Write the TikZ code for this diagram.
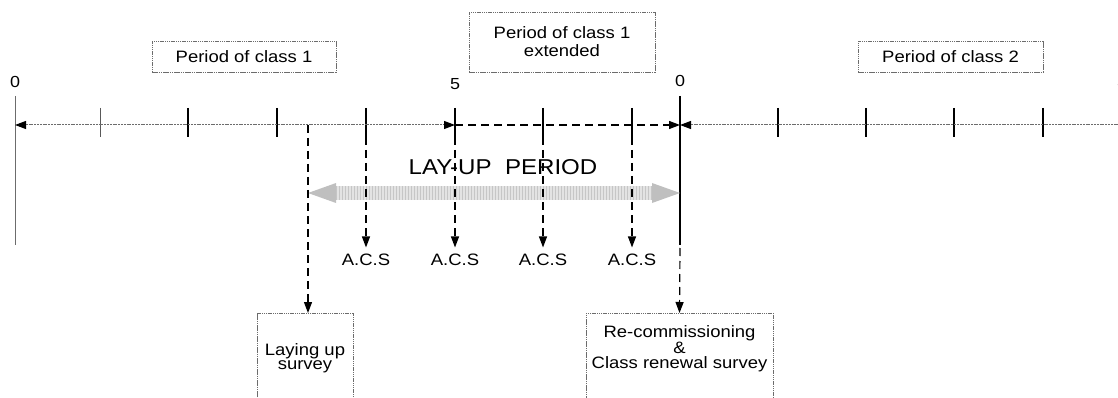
\documentclass[tikz,border=0pt]{standalone}
\usepackage{fontspec}
\setmainfont{Liberation Sans}[FakeStretch=1.12]
\usetikzlibrary{arrows.meta,patterns}

\begin{document}
\begin{tikzpicture}[x=1pt,y=-1pt,
  every node/.style={inner sep=0pt,font=\fontsize{16.5}{18}\selectfont},
  periodbox/.style={draw=gray!85!black,line width=0.8pt,dash pattern=on 1.5pt off 0.7pt},
  axisline/.style={draw=gray!85!black,line width=1pt,dash pattern=on 2pt off 0.8pt},
  dashline/.style={line width=1.2pt,dash pattern=on 8pt off 5pt},
  tickmark/.style={line width=1.6pt},
  tip/.style={-{Triangle[length=11pt,width=8pt,color=black]}},
  acs/.style={inner sep=6pt}]
\useasboundingbox (0,0) rectangle (1118,398);

% boxes over the time line
\node[periodbox,minimum width=184pt,minimum height=31pt] (class1) at (244,56.5) {Period of class 1};
\node[periodbox,minimum width=186pt,minimum height=60pt,align=center] (class1ext) at (562,42)
  {Period of class 1\\extended};
\node[periodbox,minimum width=185pt,minimum height=31pt] (class2) at (950.5,56.5) {Period of class 2};

% years
\node[font=\fontsize{16}{16}\selectfont] (y0) at (15,82) {0};
\node[font=\fontsize{16}{16}\selectfont] (y5) at (455,84) {5};
\node[font=\fontsize{16}{16}\selectfont] (z0) at (680,81) {0};
\node[font=\fontsize{16}{16}\selectfont] (z5) at (1122,82) {5};

% time line
\coordinate (start) at (15,125);
\coordinate (five) at (455,125);
\coordinate (zero) at (680,125);
\coordinate (end) at (1125,125);
\draw[gray!85!black,line width=0.9pt] (15,96) -- (15,245);
\draw[line width=1.8pt] (680,96) -- (680,245);
\draw[gray!70!black,line width=0.8pt] (100,108) -- (100,137);
\foreach \x in {188,277,366,455,543,632,778,866,954,1043}
  \draw[tickmark] (\x,108) -- (\x,137);
\draw[axisline,{Triangle[length=11pt,width=8pt,color=black]}-{Triangle[length=11pt,width=8pt,color=black]}]
  (start) -- (five);
\draw[dashline,tip] (five) -- (zero);
\draw[axisline,{Triangle[length=11pt,width=8pt,color=black]}-] (zero) -- (end);

% lay-up period
\node[font=\fontsize{21.5}{24}\selectfont] (layup) at (503,167) {LAY-UP\ \ PERIOD};
\coordinate (lpl) at (308,193);
\coordinate (lpr) at (680,193);
\fill[gray!22] (lpl) ++(28,-6.5) rectangle ++(316,13);
\fill[pattern=vertical lines,pattern color=gray!45] (lpl) ++(28,-6.5) rectangle ++(316,13);
\fill[gray!50] (lpl) -- ++(28,-10) -- ++(0,20) -- cycle;
\fill[gray!50] (lpr) -- ++(-28,-10) -- ++(0,20) -- cycle;

% annual surveys
\foreach \x/\n in {366/a,455/b,543/c,632/d} {
  \coordinate (top\n) at (\x,137);
  \node[acs] (acs\n) at (\x,259.5) {A.C.S};
  \draw[dashline,tip] (top\n) -- (acs\n.north);
}

% surveys at the ends
\node[periodbox,minimum width=96pt,minimum height=100pt,anchor=north] (layupbox) at (305,313) {};
\node[align=center,font=\fontsize{16.5}{14.5}\selectfont] (layuptext) at (305,358) {Laying up\\survey};
\node[periodbox,minimum width=187pt,minimum height=100pt,anchor=north] (recommbox) at (679.5,313) {};
\node[align=center,font=\fontsize{16.5}{15.5}\selectfont] (recommtext) at (679.5,349)
  {Re-commissioning\\\&\\Class renewal survey};
\coordinate (layupstart) at (308,125);
\coordinate (recommstart) at (680,248);
\draw[dashline,tip] (layupstart) -- (layupstart |- layupbox.north);
\draw[dashline,tip] (recommstart) -- (recommbox.north);
\end{tikzpicture}
\end{document}
